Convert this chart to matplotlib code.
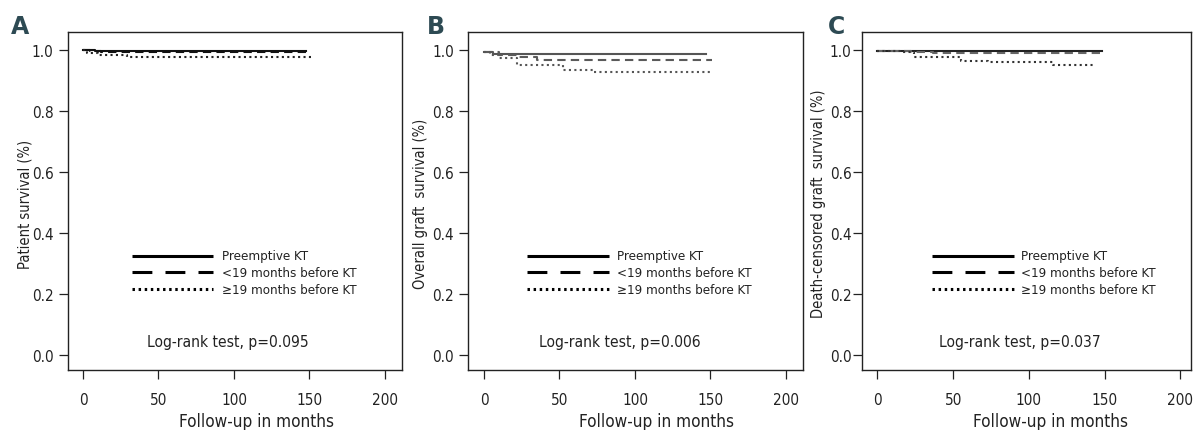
import matplotlib
matplotlib.use("Agg")
import matplotlib.pyplot as plt
from matplotlib import font_manager as fm

names = {f.name for f in fm.fontManager.ttflist}
if "Liberation Sans Narrow" in names:
    FAM = ["Liberation Sans Narrow", "DejaVu Sans"]
    STRETCH = "normal"
else:
    FAM = ["DejaVu Sans"]
    STRETCH = "condensed"
plt.rcParams["font.family"] = FAM
plt.rcParams["font.stretch"] = STRETCH

# ---- data ----
groups = ["Preemptive KT", "<19 months before KT", "\u226519 months before KT"]

# Panel A: patient survival
a_pre_t = [0, 8, 148]
a_pre_s = [1.0, 0.997, 0.997]
a_lt_t = [0, 5, 12, 151]
a_lt_s = [1.0, 0.998, 0.994, 0.994]
a_ge_t = [0, 3, 10, 29, 152]
a_ge_s = [1.0, 0.99, 0.984, 0.976, 0.976]

# Panel B: overall graft survival
b_pre_t = [0, 6, 147]
b_pre_s = [0.995, 0.987, 0.987]
b_lt_t = [0, 10, 22, 35, 151]
b_lt_s = [0.995, 0.985, 0.978, 0.967, 0.967]
b_ge_t = [0, 4, 10, 22, 52, 72, 150]
b_ge_s = [0.995, 0.985, 0.975, 0.951, 0.935, 0.928, 0.928]

# Panel C: death-censored graft survival
c_pre_t = [0, 148]
c_pre_s = [0.998, 0.998]
c_lt_t = [0, 22, 37, 150]
c_lt_s = [0.998, 0.993, 0.989, 0.989]
c_ge_t = [0, 15, 24, 55, 73, 116, 143]
c_ge_s = [0.998, 0.994, 0.978, 0.964, 0.962, 0.95, 0.95]

panel_letters = ["A", "B", "C"]
ylabels = ["Patient survival (%)", "Overall graft  survival (%)", "Death-censored graft  survival (%)"]
pvalues = ["Log-rank test, p=0.095", "Log-rank test, p=0.006", "Log-rank test, p=0.037"]
xticks = [0, 50, 100, 150, 200]
yticks = [0.0, 0.2, 0.4, 0.6, 0.8, 1.0]
ytick_labels = ["0.0", "0.2", "0.4", "0.6", "0.8", "1.0"]

panels = [
    [(a_pre_t, a_pre_s), (a_lt_t, a_lt_s), (a_ge_t, a_ge_s)],
    [(b_pre_t, b_pre_s), (b_lt_t, b_lt_s), (b_ge_t, b_ge_s)],
    [(c_pre_t, c_pre_s), (c_lt_t, c_lt_s), (c_ge_t, c_ge_s)],
]

fig = plt.figure(figsize=(11.93, 4.31), dpi=100)
W, H = 1193, 431
boxes = [(68, 402), (468, 803), (862, 1191)]
xlims = [(-9.9, 211.3), (-10.6, 211.3), (-10.2, 207.0)]
curve_colors = [["#111111", "#111111", "#222222"],
                ["#555555", "#5a5a5a", "#555555"],
                ["#222222", "#666666", "#333333"]]
leg_x = [(32.5, 86, 92), (28.5, 83, 88), (36, 90, 95)]
pv_x = [96, 90, 94]
ylab_x = [25, 420, 818]
xlab_frac = [0.563, 0.564, 0.574]
ypads = [4, 3.5, 1]
letter_x = [11, 427, 828]
styles = ["-", (0, (4, 2.5)), (0, (1, 1.6))]
leg_styles = ["-", (0, (6.5, 4.3)), (0, (0.8, 1.2))]

for i in range(3):
    l, r = boxes[i]
    ax = fig.add_axes([l / W, (H - 371) / H, (r - l) / W, (371 - 33) / H])
    for j, (t, s) in enumerate(panels[i]):
        ax.step(t, s, where="post", color=curve_colors[i][j], lw=1.5,
                linestyle=styles[j])
    ax.set_xlim(*xlims[i])
    ax.set_ylim(-0.049, 1.059)
    ax.set_xticks(xticks)
    ax.set_xticklabels([str(v) for v in xticks])
    ax.set_yticks(yticks)
    ax.set_yticklabels(ytick_labels)
    ax.tick_params(direction="out", length=6.5, width=0.9, labelsize=11,
                   colors="#222222")
    ax.tick_params(axis="x", pad=9)
    ax.tick_params(axis="y", pad=ypads[i])
    for sp in ax.spines.values():
        sp.set_linewidth(1.0)
        sp.set_color("#222222")
    ax.set_xlabel("Follow-up in months", fontsize=12.3, color="#222222")
    ax.xaxis.set_label_coords(xlab_frac[i], -0.125)
    # legend drawn as lines inside axes
    x0, x1, xt = leg_x[i]
    for j, yy in enumerate([0.325, 0.272, 0.216]):
        ax.plot([x0, x1], [yy, yy], color="black", lw=2.2, linestyle=leg_styles[j],
                solid_capstyle="butt", dash_capstyle="butt")
        ax.text(xt, yy, groups[j], fontsize=9.5, va="center", ha="left", color="#222222")
    ax.text(pv_x[i], 0.046, pvalues[i], fontsize=11.2, ha="center", va="center", color="#222222")
    fig.text(ylab_x[i] / W, 1 - 204 / H, ylabels[i], rotation=90, fontsize=10.5,
             ha="center", va="center", color="#222222")
    fig.text(letter_x[i] / W, 1 - 27.5 / H, panel_letters[i], fontsize=17,
             fontweight="bold", ha="left", va="center", color="#2d4a53",
             family=["DejaVu Sans"], stretch="normal")

fig.savefig("out.png", dpi=100)
